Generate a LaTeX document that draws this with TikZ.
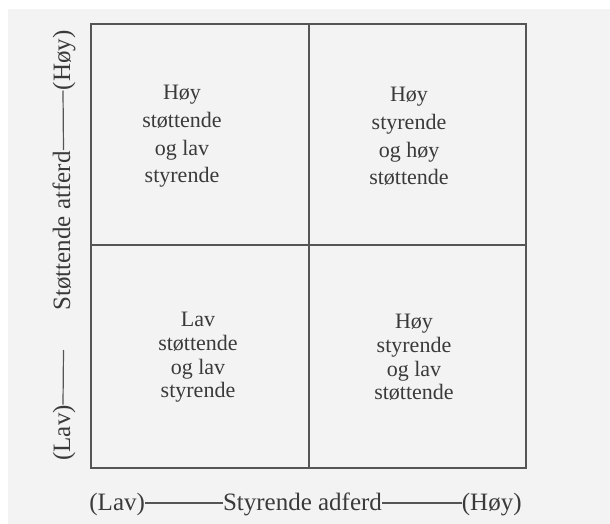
\documentclass[tikz,border=0pt]{standalone}
\usepackage{fontspec}
\setmainfont{Liberation Serif}
\definecolor{bgcol}{HTML}{F3F3F3}
\definecolor{inkcol}{HTML}{3A3A3A}
\definecolor{linecol}{HTML}{555555}
\begin{document}
\begin{tikzpicture}[x=0.5pt,y=-0.5pt,
  frame/.style={draw=linecol,line width=0.75pt},
  axisline/.style={draw=linecol,line width=0.6pt},
  quad/.style={text=inkcol,align=center,font=\fontsize{11}{13.8}\selectfont,inner sep=0pt},
  quadlow/.style={text=inkcol,align=center,font=\fontsize{11}{11.8}\selectfont,inner sep=0pt},
  axislabel/.style={text=inkcol,font=\fontsize{12.5}{14}\selectfont,inner sep=0pt}]
\useasboundingbox (0,0) rectangle (610,524);
\fill[white] (0,0) rectangle (610,524);
\fill[bgcol] (8,9) rectangle (610,524);
% frame
\coordinate (tl) at (91,24);
\coordinate (br) at (526,468);
\coordinate (mt) at (309,24);
\coordinate (mb) at (309,468);
\coordinate (ml) at (91,245);
\coordinate (mr) at (526,245);
\draw[frame] (tl) rectangle (br);
\draw[frame] (mt) -- (mb);
\draw[frame] (ml) -- (mr);
% quadrant texts
\node[quad] (q1) at (182,136.5) {Høy\\støttende\\og lav\\styrende};
\node[quad] (q2) at (409,136.5) {Høy\\styrende\\og høy\\støttende};
\node[quadlow] (q3) at (198,357.5) {Lav\\støttende\\og lav\\styrende};
\node[quadlow] (q4) at (414,357.5) {Høy\\styrende\\og lav\\støttende};
% bottom axis label
\node[axislabel,anchor=base west] (xlav) at (89,510) {(Lav)};
\node[axislabel,anchor=base] (xlab) at (302.5,510) {Styrende adferd};
\node[axislabel,anchor=base east] (xhoy) at (522,510) {(Høy)};
\draw[axisline] ([yshift=3.5pt]xlav.base east) -- ([yshift=3.5pt]xlab.base west);
\draw[axisline] ([yshift=3.5pt]xlab.base east) -- ([yshift=3.5pt]xhoy.base west);
% left axis label
\node[axislabel,rotate=90,anchor=base east] (yhoy) at (70,30) {(Høy)};
\node[axislabel,rotate=90,anchor=base] (ylab) at (70,231) {Støttende atferd};
\node[axislabel,rotate=90,anchor=base west] (ylav) at (70,461) {(Lav)};
\coordinate (ytopend) at (63.5,150);
\coordinate (ybotend) at (63.5,350);
\draw[axisline] ([xshift=-3.5pt]yhoy.base west) -- (ytopend);
\draw[axisline] (ybotend) -- ([xshift=-3.5pt]ylav.base east);
\end{tikzpicture}
\end{document}
